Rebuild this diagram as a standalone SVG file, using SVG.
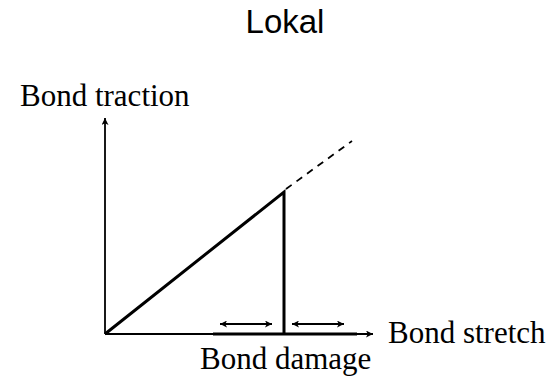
<svg xmlns="http://www.w3.org/2000/svg" width="553" height="378" viewBox="0 0 553 378">
<defs>
<style>
.serif{font-family:"Liberation Serif","Times New Roman",serif;font-size:31px;fill:#000}
.sans{font-family:"Liberation Sans",Arial,sans-serif;font-size:33px;fill:#000}
.thin{stroke:#000;stroke-width:1.8;fill:none}
.thick{stroke:#000;stroke-width:3;fill:none}
</style>
<marker id="ah" viewBox="0 0 10 10" refX="10" refY="5" markerWidth="9" markerHeight="7" markerUnits="userSpaceOnUse" orient="auto-start-reverse">
<path d="M0,0 L10,5 L0,10 L2.5,5 Z" fill="#000"/>
</marker>
</defs>
<rect width="553" height="378" fill="#fff"/>
<g id="title"><text class="sans" x="285" y="33" text-anchor="middle">Lokal</text></g>
<g id="labels">
<text class="serif" x="20" y="106">Bond traction</text>
<text class="serif" x="388" y="343">Bond stretch</text>
<text class="serif" x="200" y="369">Bond damage</text>
</g>
<g id="connectors">
<line id="y-axis" class="thin" x1="105" y1="334" x2="105" y2="118" marker-end="url(#ah)"/>
<line id="x-axis" class="thin" x1="105" y1="334" x2="373" y2="334" marker-end="url(#ah)"/>
<line id="damage-band" class="thick" x1="213" y1="334" x2="357" y2="334"/>
<polyline id="curve" class="thick" points="105,334 284,192 284,334"/>
<line id="dashed" class="thin" x1="286" y1="189" x2="352" y2="141" stroke-dasharray="7,6"/>
<line class="thin" x1="220" y1="324" x2="272" y2="324" marker-start="url(#ah)" marker-end="url(#ah)"/>
<line class="thin" x1="292" y1="324" x2="344" y2="324" marker-start="url(#ah)" marker-end="url(#ah)"/>
</g>
</svg>
